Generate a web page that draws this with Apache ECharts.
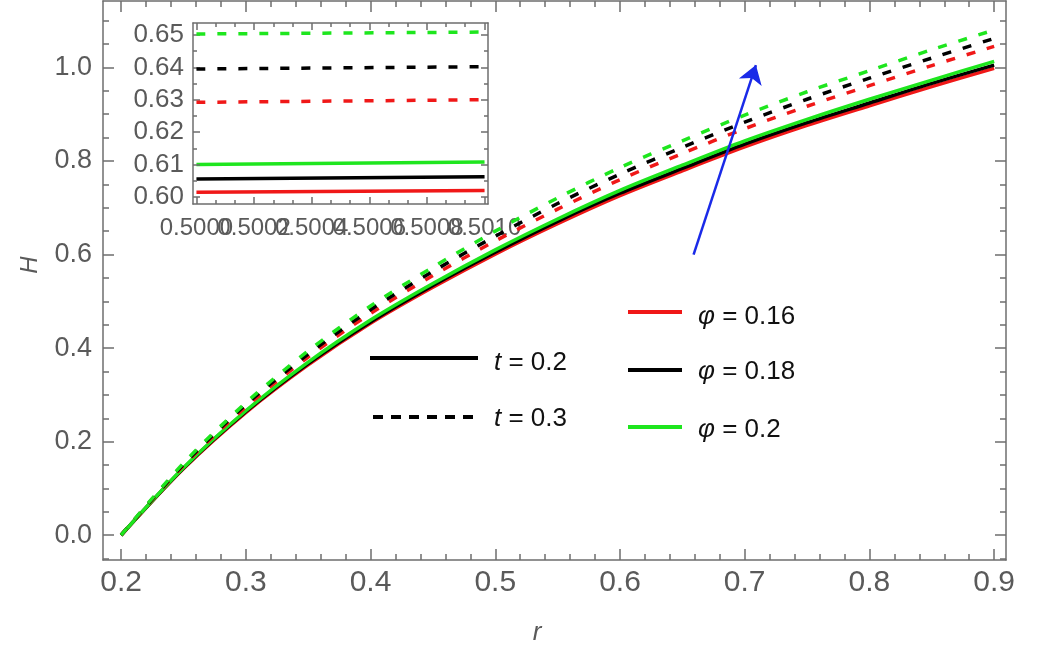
<!DOCTYPE html>
<html>
<head>
<meta charset="utf-8">
<script src="https://cdn.jsdelivr.net/npm/echarts@6/dist/echarts.min.js"></script>
<style>
html, body { margin: 0; padding: 0; background: #fff; }
#main { width: 1037px; height: 655px; }
</style>
</head>
<body>
<div id="main"></div>
<script>
// r values along the main curves
const r = [0.2, 0.25, 0.3, 0.35, 0.4, 0.45, 0.5, 0.55, 0.6, 0.65, 0.7, 0.75, 0.8, 0.85, 0.9];
// t = 0.2 (solid)
const redSolid   = [0, 0.142, 0.262, 0.364, 0.453, 0.530, 0.601, 0.666, 0.726, 0.779, 0.830, 0.876, 0.918, 0.959, 0.998];
const blackSolid = [0, 0.143, 0.264, 0.367, 0.456, 0.534, 0.605, 0.671, 0.731, 0.784, 0.836, 0.882, 0.924, 0.966, 1.005];
const greenSolid = [0, 0.144, 0.266, 0.370, 0.460, 0.538, 0.610, 0.676, 0.737, 0.791, 0.843, 0.889, 0.932, 0.973, 1.013];
// t = 0.3 (dashed)
const redDashed   = [0, 0.149, 0.274, 0.381, 0.474, 0.555, 0.629, 0.697, 0.760, 0.816, 0.869, 0.917, 0.961, 1.004, 1.045];
const blackDashed = [0, 0.151, 0.279, 0.387, 0.482, 0.564, 0.639, 0.709, 0.772, 0.829, 0.883, 0.932, 0.977, 1.020, 1.062];
const greenDashed = [0, 0.154, 0.283, 0.394, 0.490, 0.573, 0.650, 0.721, 0.786, 0.843, 0.898, 0.948, 0.993, 1.038, 1.080];

// zoomed inset
const insetR = [0.5000, 0.5010];
const insetRedSolid    = [0.6014, 0.6020];
const insetBlackSolid  = [0.6055, 0.6062];
const insetGreenSolid  = [0.6100, 0.6108];
const insetRedDashed   = [0.6292, 0.6300];
const insetBlackDashed = [0.6395, 0.6402];
const insetGreenDashed = [0.6503, 0.6509];

// ticks
const xTicks = [0.2, 0.3, 0.4, 0.5, 0.6, 0.7, 0.8, 0.9];
const yTicks = [0, 0.2, 0.4, 0.6, 0.8, 1.0];
const insetXTicks = [0.5000, 0.5002, 0.5004, 0.5006, 0.5008, 0.5010];
const insetYTicks = [0.60, 0.61, 0.62, 0.63, 0.64, 0.65];

const arrowFrom = [0.659, 0.600];
const arrowTo = [0.709, 1.005];

const RED = '#f01818', BLACK = '#000000', GREEN = '#1ee61e';
const FRAME = '#6e6e6e', LABEL = '#5a5a5a';

function steps(from, to, step) {
    const out = [];
    for (let v = from; v <= to + step / 100; v += step) out.push(+v.toFixed(6));
    return out;
}

// one side of a frame = a major-tick axis plus a minor-tick axis
function side(gridIndex, pos, min, max, major, minor, label, majorLen, minorLen) {
    const lineStyle = { color: FRAME, width: 1.5 };
    const base = { type: 'value', gridIndex: gridIndex, position: pos, min: min, max: max, splitLine: { show: false }, z: 3 };
    return [
        Object.assign({}, base, {
            axisLine: { show: true, onZero: false, lineStyle: lineStyle },
            axisTick: { show: true, inside: true, length: majorLen, customValues: major, lineStyle: lineStyle },
            axisLabel: label ? Object.assign({ customValues: major, showMinLabel: true, showMaxLabel: true, hideOverlap: false }, label) : { show: false }
        }),
        Object.assign({}, base, {
            axisLine: { show: false, onZero: false },
            axisTick: { show: true, inside: true, length: minorLen, customValues: minor, lineStyle: lineStyle },
            axisLabel: { show: false }
        })
    ];
}

const xMain = [0.1855, 0.9095], yMain = [-0.053, 1.142];
const xIn = [0.499988, 0.501012], yIn = [0.5978, 0.6537];

const xMinor = steps(0.2, 0.9, 0.02);
const yMinor = steps(-0.05, 1.1, 0.05);
const inXMinor = steps(0.5000, 0.5010, 0.0002 / 3);
const inYMinor = steps(0.600, 0.650, 0.005);

const xLabel = { color: LABEL, fontSize: 30, fontFamily: "'Liberation Sans Narrow', 'Liberation Sans', sans-serif", margin: 8, formatter: v => v.toFixed(1) };
const yLabel = { color: LABEL, fontSize: 27, fontFamily: "'Liberation Sans', Arial, sans-serif", margin: 11, formatter: v => v.toFixed(1) };
const inXLabel = { color: LABEL, fontSize: 24, fontFamily: "'Liberation Sans', Arial, sans-serif", margin: 12, formatter: v => v.toFixed(4) };
const inYLabel = { color: LABEL, fontSize: 26, fontFamily: "'Liberation Sans', Arial, sans-serif", margin: 9, formatter: v => v.toFixed(2) };

// the inset's x labels overlap each other; ECharts drops a neighbour of the
// min/max label when they overlap, so split them over two label-only axes
const inXEven = insetXTicks.filter((v, i) => i % 2 === 0);
const inXOdd = insetXTicks.filter((v, i) => i % 2 === 1);

const xAxes = [].concat(
    side(0, 'bottom', xMain[0], xMain[1], xTicks, xMinor, xLabel, 11, 6),
    side(0, 'top', xMain[0], xMain[1], xTicks, xMinor, null, 11, 6),
    side(1, 'bottom', xIn[0], xIn[1], insetXTicks, inXMinor, null, 7, 4),
    side(1, 'top', xIn[0], xIn[1], insetXTicks, inXMinor, null, 7, 4),
    [inXEven, inXOdd].map(vals => ({
        type: 'value', gridIndex: 1, position: 'bottom', min: xIn[0], max: xIn[1], z: 3,
        splitLine: { show: false },
        axisLine: { show: false, onZero: false },
        axisTick: { show: false },
        axisLabel: Object.assign({ customValues: vals, showMinLabel: true, showMaxLabel: true }, inXLabel)
    }))
);
const yAxes = [].concat(
    side(0, 'left', yMain[0], yMain[1], yTicks, yMinor, yLabel, 11, 6),
    side(0, 'right', yMain[0], yMain[1], yTicks, yMinor, null, 11, 6),
    side(1, 'left', yIn[0], yIn[1], insetYTicks, inYMinor, inYLabel, 7, 4),
    side(1, 'right', yIn[0], yIn[1], insetYTicks, inYMinor, null, 7, 4)
);

function curve(xs, ys, color, dashed, axisIdx) {
    return {
        type: 'line',
        xAxisIndex: axisIdx, yAxisIndex: axisIdx,
        data: xs.map((x, i) => [x, ys[i]]),
        smooth: 0.3,
        showSymbol: false,
        silent: true,
        lineStyle: { color: color, width: 3.5, type: dashed ? [9, 12] : 'solid' },
        z: dashed ? 3 : 2
    };
}

const series = [
    curve(r, redSolid, RED, false, 0),
    curve(r, blackSolid, BLACK, false, 0),
    curve(r, greenSolid, GREEN, false, 0),
    curve(r, redDashed, RED, true, 0),
    curve(r, blackDashed, BLACK, true, 0),
    curve(r, greenDashed, GREEN, true, 0),
    curve(insetR, insetRedSolid, RED, false, 4),
    curve(insetR, insetBlackSolid, BLACK, false, 4),
    curve(insetR, insetGreenSolid, GREEN, false, 4),
    curve(insetR, insetRedDashed, RED, true, 4),
    curve(insetR, insetBlackDashed, BLACK, true, 4),
    curve(insetR, insetGreenDashed, GREEN, true, 4),
    {
        type: 'lines',
        coordinateSystem: 'cartesian2d',
        xAxisIndex: 0, yAxisIndex: 0,
        symbol: ['none', 'arrow'],
        symbolSize: 18,
        silent: true,
        lineStyle: { color: '#1a2ae8', width: 2.5, opacity: 1, curveness: 0 },
        data: [{ coords: [arrowFrom, arrowTo] }],
        z: 6
    }
];

const legendFont = "'Liberation Sans', Arial, sans-serif";
function legendText(sym, rest, x, y) {
    return {
        type: 'text', x: x, y: y, z: 10,
        style: {
            text: '{i|' + sym + '}{n|' + rest + '}',
            verticalAlign: 'middle',
            rich: {
                i: { fontSize: 26, fontStyle: 'italic', fontFamily: legendFont, fill: '#111' },
                n: { fontSize: 26, fontFamily: legendFont, fill: '#111' }
            }
        }
    };
}
function legendLine(x1, x2, y, color, dashed) {
    return {
        type: 'line', z: 10,
        shape: { x1: x1, y1: y, x2: x2, y2: y },
        style: { stroke: color, lineWidth: 4, lineDash: dashed ? [10, 8] : null }
    };
}

const chart = echarts.init(document.getElementById('main'), null, { renderer: 'canvas' });
chart.setOption({
    animation: false,
    backgroundColor: '#fff',
    grid: [
        { left: 103, right: 31, top: 1, bottom: 95, containLabel: false },
        { left: 193, top: 23, width: 295, height: 181, show: true, backgroundColor: '#fff', borderWidth: 0 }
    ],
    xAxis: xAxes,
    yAxis: yAxes,
    series: series,
    graphic: [
        legendLine(370, 478, 358, BLACK, false),
        legendText('t', ' = 0.2', 494, 363),
        legendLine(373, 473, 417, BLACK, true),
        legendText('t', ' = 0.3', 494, 419),
        legendLine(628, 682, 312, RED, false),
        legendText('φ', ' = 0.16', 698, 317),
        legendLine(628, 682, 370, BLACK, false),
        legendText('φ', ' = 0.18', 698, 372),
        legendLine(628, 682, 427, GREEN, false),
        legendText('φ', ' = 0.2', 698, 430),
        {
            type: 'text', x: 30, y: 265, rotation: Math.PI / 2, z: 10,
            style: { text: 'H', fontSize: 24, fontStyle: 'italic', fontFamily: legendFont, fill: LABEL, align: 'center', verticalAlign: 'middle' }
        },
        {
            type: 'text', x: 537, y: 633, z: 10,
            style: { text: 'r', fontSize: 26, fontStyle: 'italic', fontFamily: legendFont, fill: LABEL, align: 'center', verticalAlign: 'middle' }
        }
    ]
});
</script>
</body>
</html>
